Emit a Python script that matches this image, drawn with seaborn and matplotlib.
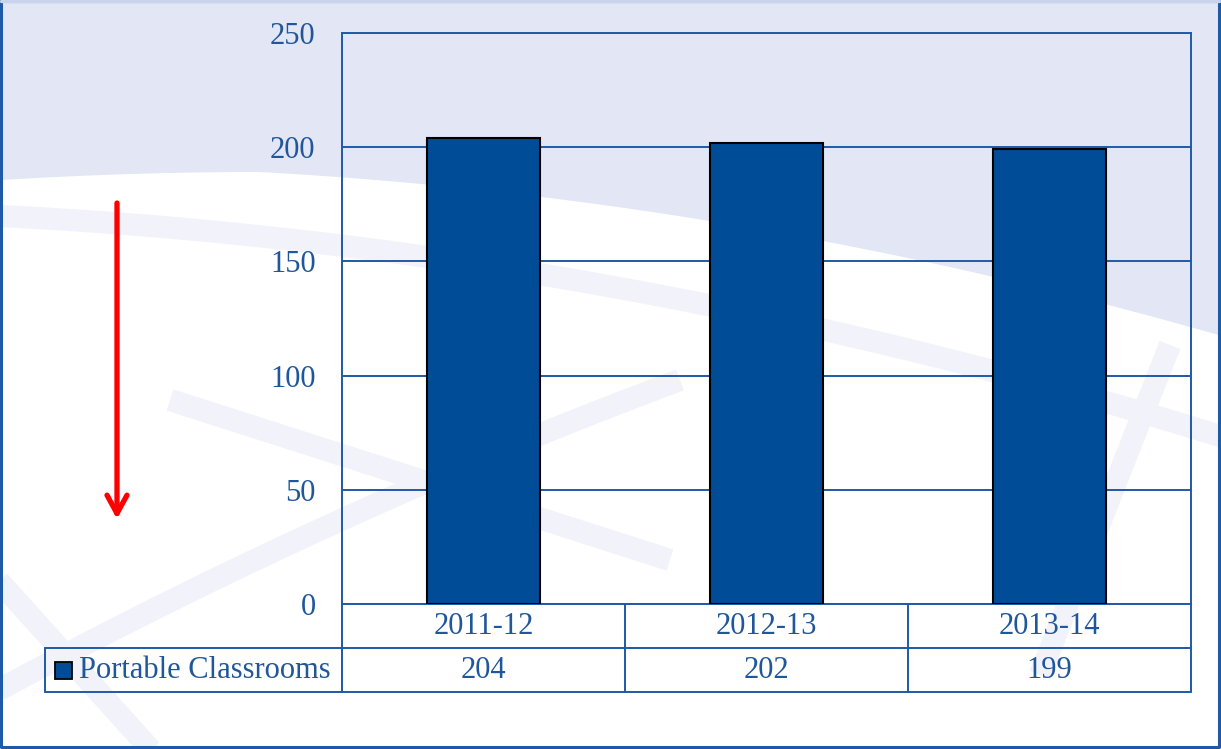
import numpy as np
import pandas as pd
import matplotlib
matplotlib.use("Agg")
import matplotlib.pyplot as plt
import matplotlib.transforms as mtransforms
from matplotlib.lines import Line2D
from matplotlib.patches import Rectangle
import seaborn as sns

# Data
years = ["2011-12", "2012-13", "2013-14"]
portable_classrooms = [204, 202, 199]
series_name = "Portable Classrooms"
y_ticks = [0, 50, 100, 150, 200, 250]

BLUE = "#1F5AA6"
BAR = "#004C97"
TEXT = "#20569A"
LAVENDER = "#E2E6F5"
BAND = "#F2F3FA"
FS = 22

sns.set_theme(style="white")
plt.rcParams["font.family"] = ["Liberation Serif", "DejaVu Serif"]

W, H = 1221, 749
fig = plt.figure(figsize=(W / 100, H / 100), dpi=100)
fig.patch.set_facecolor("white")


def px(x, y):
    return x / W, 1 - y / H


# Decorative background
bg = fig.add_axes([0, 0, 1, 1], zorder=-5)
bg.set_xlim(0, W)
bg.set_ylim(H, 0)
bg.axis("off")
xs = np.linspace(0, W, 200)
edge = 172 + 0.00012 * (xs - 260) ** 2 + np.where(xs > 260, 0.055 * (xs - 260), 0)
bg.fill_between(xs, 0, edge, color=LAVENDER, lw=0)
# faint sweeping bands
t = np.linspace(0, 1, 200)
band_kw = dict(color=BAND, lw=16, solid_capstyle="butt")
bg.plot(-20 + 1300 * t, 215 + 60 * t + 180 * t ** 2, **band_kw)
bg.plot(-20 + 700 * t, 700 - 380 * t + 60 * t ** 2, **band_kw)
bg.plot(-20 + 180 * t, 560 + 200 * t, **band_kw)
bg.plot(170 + 500 * t, 400 + 160 * t, **band_kw)
bg.plot(1170 - 130 * t, 345 + 330 * t, **band_kw)
# frame
bg.add_line(Line2D([1, W - 2, W - 2, 1, 1], [1, 1, H - 2, H - 2, 1], color=BLUE, lw=2.2))
bg.add_line(Line2D([1, W - 2], [1, 1], color="#C9D3EC", lw=2.4))

# Main plot area
x0, y0 = px(342, 604)
x1, y1 = px(1191, 33)
ax = fig.add_axes([x0, y0, x1 - x0, y1 - y0])
ax.patch.set_alpha(0)

df = pd.DataFrame({"year": years, "count": portable_classrooms})
sns.barplot(data=df, x="year", y="count", color=BAR, width=0.4,
            edgecolor="black", linewidth=1.5, saturation=1, ax=ax, zorder=3)

ax.set_xlim(-0.5, len(years) - 0.5)
ax.set_ylim(0, 250)
ax.set_yticks(y_ticks)
ax.set_yticklabels([str(v) for v in y_ticks], fontsize=FS, color=TEXT)
ax.tick_params(axis="y", length=0, pad=19)
ax.set_xticks([])
ax.set_xlabel("")
ax.set_ylabel("")
ax.yaxis.grid(True, color=BLUE, lw=1.4)
ax.set_axisbelow(True)
for s in ax.spines.values():
    s.set_color(BLUE)
    s.set_linewidth(1.4)

# Data table below the axis
row_h = 44 / 571
trans = mtransforms.blended_transform_factory(ax.transData, ax.transAxes)
n = len(years)
for i in range(n + 1):
    ax.add_line(Line2D([i - 0.5, i - 0.5], [0, -2 * row_h], transform=trans,
                       color=BLUE, lw=1.4, clip_on=False))
for k in (1, 2):
    ax.add_line(Line2D([-0.5, n - 0.5], [-k * row_h, -k * row_h], transform=trans,
                       color=BLUE, lw=1.4, clip_on=False))
for i, (yr, v) in enumerate(zip(years, portable_classrooms)):
    ax.text(i, -0.5 * row_h, yr, transform=trans, ha="center", va="center",
            fontsize=FS, color=TEXT)
    ax.text(i, -1.5 * row_h, str(v), transform=trans, ha="center", va="center",
            fontsize=FS, color=TEXT)

# Legend cell at the left of the value row
lx0, _ = px(45, 0)
_, ty = px(0, 648)
_, by = px(0, 692)
fig.add_artist(Line2D([lx0, x0], [ty, ty], color=BLUE, lw=1.4))
fig.add_artist(Line2D([lx0, x0], [by, by], color=BLUE, lw=1.4))
fig.add_artist(Line2D([lx0, lx0], [ty, by], color=BLUE, lw=1.4))
sx, sy = px(55, 679)
fig.add_artist(Rectangle((sx, sy), 17 / W, 17 / H, fc=BAR, ec="black", lw=1.3))
tx, tyy = px(79, 670)
fig.text(tx, tyy, series_name, ha="left", va="center", fontsize=FS, color=TEXT)

# Red downward arrow
bg.annotate("", xy=(117, 519), xytext=(117, 203),
            arrowprops=dict(arrowstyle="->,head_length=1.1,head_width=0.6",
                            color="#FF0000", lw=3.8, shrinkA=0, shrinkB=0))

fig.savefig("out.png", dpi=100)
